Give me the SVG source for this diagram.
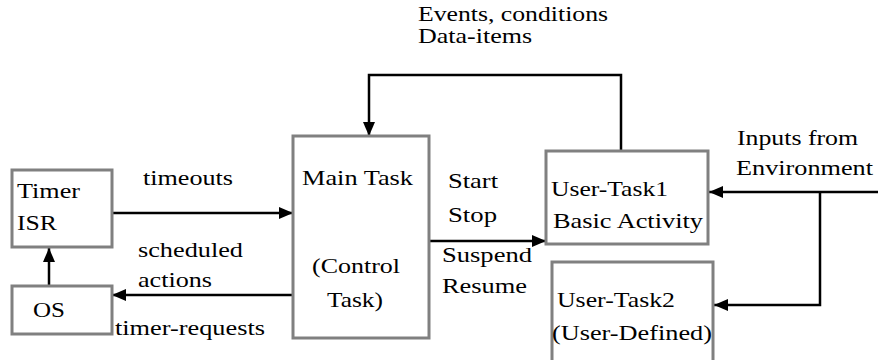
<svg xmlns="http://www.w3.org/2000/svg" width="878" height="360" viewBox="0 0 878 360">
<style>
.box{fill:#fff;stroke:#808080;stroke-width:3}
.ln{fill:none;stroke:#000;stroke-width:2.5}
</style>
<defs>
<marker id="ah" viewBox="0 0 14 12" refX="14" refY="6" markerWidth="14" markerHeight="12" markerUnits="userSpaceOnUse" orient="auto">
<path d="M0,0 L14,6 L0,12 Z" fill="#000"/>
</marker>
</defs>
<rect width="878" height="360" fill="#fff"/>
<g font-family="Liberation Serif, serif" font-size="21" fill="#000">
<g id="connectors">
<line class="ln" x1="112" y1="213" x2="293" y2="213" marker-end="url(#ah)"/>
<line class="ln" x1="293" y1="295" x2="112" y2="295" marker-end="url(#ah)"/>
<line class="ln" x1="49" y1="286" x2="49" y2="248" marker-end="url(#ah)"/>
<line class="ln" x1="429" y1="241" x2="546" y2="241" marker-end="url(#ah)"/>
<polyline class="ln" points="621,151 621,75 369,75 369,136" marker-end="url(#ah)"/>
<line class="ln" x1="878" y1="192" x2="709" y2="192" marker-end="url(#ah)"/>
<polyline class="ln" points="820,192 820,305 714,305" marker-end="url(#ah)"/>
<text x="418" y="21" textLength="190" lengthAdjust="spacingAndGlyphs">Events, conditions</text>
<text x="418" y="43" textLength="114" lengthAdjust="spacingAndGlyphs">Data-items</text>
<text x="143" y="185" textLength="90" lengthAdjust="spacingAndGlyphs">timeouts</text>
<text x="138" y="257" textLength="105" lengthAdjust="spacingAndGlyphs">scheduled</text>
<text x="138" y="287" textLength="74" lengthAdjust="spacingAndGlyphs">actions</text>
<text x="115" y="335" textLength="150" lengthAdjust="spacingAndGlyphs">timer-requests</text>
<text x="448" y="188" textLength="50" lengthAdjust="spacingAndGlyphs">Start</text>
<text x="448" y="222" textLength="49" lengthAdjust="spacingAndGlyphs">Stop</text>
<text x="442" y="262" textLength="90" lengthAdjust="spacingAndGlyphs">Suspend</text>
<text x="442" y="293" textLength="85" lengthAdjust="spacingAndGlyphs">Resume</text>
<text x="737" y="145" textLength="121" lengthAdjust="spacingAndGlyphs">Inputs from</text>
<text x="736" y="175" textLength="137" lengthAdjust="spacingAndGlyphs">Environment</text>
</g>
<g id="timer-isr">
<rect class="box" x="12" y="170" width="100" height="77"/>
<text x="17" y="198" textLength="63" lengthAdjust="spacingAndGlyphs">Timer</text>
<text x="17" y="230" textLength="40" lengthAdjust="spacingAndGlyphs">ISR</text>
</g>
<g id="os">
<rect class="box" x="12" y="286" width="100" height="48"/>
<text x="33" y="317" textLength="32" lengthAdjust="spacingAndGlyphs">OS</text>
</g>
<g id="main-task">
<rect class="box" x="293" y="136" width="136" height="202"/>
<text x="302" y="185" textLength="111" lengthAdjust="spacingAndGlyphs">Main Task</text>
<text x="312" y="273" textLength="88" lengthAdjust="spacingAndGlyphs">(Control</text>
<text x="327" y="307" textLength="56" lengthAdjust="spacingAndGlyphs">Task)</text>
</g>
<g id="user-task1">
<rect class="box" x="546" y="151" width="162" height="93"/>
<text x="551" y="196" textLength="117" lengthAdjust="spacingAndGlyphs">User-Task1</text>
<text x="553" y="228" textLength="150" lengthAdjust="spacingAndGlyphs">Basic Activity</text>
</g>
<g id="user-task2">
<rect class="box" x="552" y="262" width="161" height="110"/>
<text x="557" y="307" textLength="118" lengthAdjust="spacingAndGlyphs">User-Task2</text>
<text x="552" y="340" textLength="160" lengthAdjust="spacingAndGlyphs">(User-Defined)</text>
</g>
</g>
</svg>
